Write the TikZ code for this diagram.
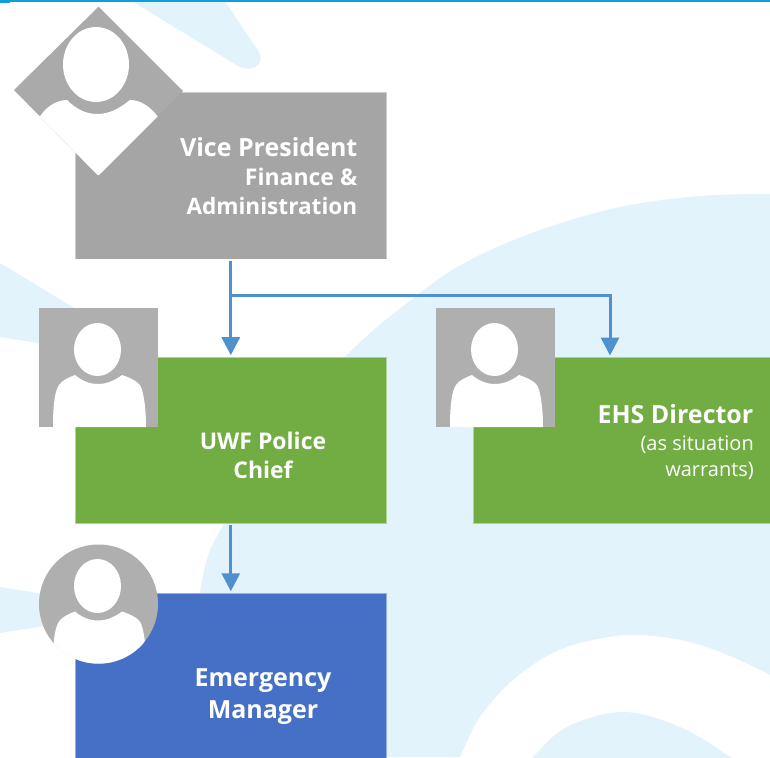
\documentclass[tikz,border=0pt]{standalone}
\usepackage{fontspec}
\setmainfont{Open Sans}
\usetikzlibrary{arrows.meta}
\definecolor{swirl}{HTML}{E3F3FB}
\definecolor{topbar}{HTML}{0F9ED9}
\definecolor{vpgrey}{HTML}{A5A5A5}
\definecolor{icongrey}{HTML}{AFAFAF}
\definecolor{chiefgreen}{HTML}{71AD42}
\definecolor{emblue}{HTML}{4570C6}
\definecolor{linkblue}{HTML}{4F90CF}
\tikzset{
  swirlfill/.style={fill=swirl},
  orgbox/.style={rectangle,anchor=north west,inner sep=0pt,draw=white,draw opacity=.45,line width=.7pt},
  squarepic/.style={rectangle,anchor=north west,fill=icongrey,minimum size=119pt,inner sep=0pt},
  roundpic/.style={circle,fill=icongrey,minimum size=119pt,inner sep=0pt},
  link/.style={draw=linkblue,line width=3pt},
  arrowlink/.style={link,-{Triangle[width=18pt,length=18pt]},shorten >=1.5pt},
  titletext/.style={text=white,font=\fontsize{23}{29}\selectfont\bfseries,inner sep=0pt},
  bigtitle/.style={text=white,font=\fontsize{25}{32}\selectfont\bfseries,inner sep=0pt},
  notetext/.style={text=white,font=\fontsize{20}{26}\selectfont,inner sep=0pt,align=right},
}
\newcommand{\personbody}{(53,427) .. controls (53,410) and (54,392) .. (59,385) .. controls (62,380) and (70,377) .. (75,375) .. controls (82,381) and (90,384) .. (98,384) .. controls (106,384) and (114,381) .. (122,375) .. controls (128,377) and (136,380) .. (140,385) .. controls (144,392) and (146,410) .. (146,427) -- cycle}
\begin{document}
\begin{tikzpicture}[x=1pt,y=-1pt]
\useasboundingbox (0,0) rectangle (770,757);
\fill[white] (0,0) rectangle (770,757);
% background swirl
\fill[swirlfill] (130,0) -- (238,66) .. controls (250,73) and (266,66) .. (259,52) -- (224,0) -- cycle;
\fill[swirlfill] (0,263) -- (76,309) -- (76,349) -- (0,337) -- cycle;
\fill[swirlfill] (0,587) -- (50,595) -- (50,625) -- (0,633) -- cycle;
\fill[swirlfill] plot[smooth,tension=.6] coordinates {(770,194) (700,196) (620,207) (540,230) (470,260) (420,293) (347,355) (280,440) (223,525) (200,592) (185,757)} -- (770,757) -- cycle;
\fill[white] plot[smooth,tension=.6] coordinates {(452,775) (460,757) (480,717) (513,680) (553,653) (593,640) (640,635) (700,645) (770,675) (810,705)} -- (810,775) -- cycle;
\fill[swirlfill] plot[smooth,tension=.6] coordinates {(518,775) (533,757) (567,727) (623,712) (680,727) (730,757) (750,775)} -- cycle;
\fill[topbar] (0,0) rectangle (770,2.2);
\fill[topbar] (0,0) rectangle (10,3);
% boxes
\node[orgbox,fill=vpgrey,minimum width=311.5pt,minimum height=167pt] (vp) at (74.7,91.8) {};
\node[orgbox,fill=chiefgreen,minimum width=311.5pt,minimum height=166.5pt] (chief) at (74.7,356.7) {};
\node[orgbox,fill=chiefgreen,minimum width=310pt,minimum height=166.5pt] (ehs) at (472.7,356.7) {};
\node[orgbox,fill=emblue,minimum width=311.5pt,minimum height=180pt] (mgr) at (74.7,592.8) {};
% diamond picture
\begin{scope}
\clip (98.5,6.7) -- (183,91) -- (99.5,174.5) .. controls (98.7,175.5) and (97.7,175.5) .. (97,174.5) -- (14,90) -- cycle;
\fill[icongrey!97!black] (0,0) rectangle (190,180);
\fill[white] (96,64.5) ellipse [x radius=33,y radius=37.5];
\fill[white] (30,130) -- (41,115) .. controls (48,105) and (58,100) .. (67,100) .. controls (75,108) and (85,114) .. (97,114) .. controls (110,114) and (120,108) .. (130,100) .. controls (140,100) and (150,106) .. (158,117) -- (158,190) -- (30,190) -- cycle;
\end{scope}
% square pictures
\node[squarepic] (chiefpic) at (39,308) {};
\fill[white] (97.5,349.5) ellipse [x radius=23.5,y radius=26.5];
\fill[white] \personbody;
\node[squarepic] (ehspic) at (436.2,308) {};
\begin{scope}[shift={(397,0)}]
\fill[white] (97.5,349.5) ellipse [x radius=23.5,y radius=26.5];
\fill[white] \personbody;
\end{scope}
% round picture
\node[roundpic] (mgrpic) at (98.5,604) {};
\begin{scope}
\clip (98.5,604) circle [radius=59.7];
\fill[white] (97.5,586) ellipse [x radius=23.5,y radius=27];
\begin{scope}[shift={(0,236.5)}]
\fill[white] (53,440) -- \personbody;
\end{scope}
\end{scope}
% connectors
\coordinate (branch) at (vp.south |- 0,295.5);
\coordinate (ehsin) at (610,357);
\draw[arrowlink,shorten <=1.5pt] (vp.south) -- (chief.north);
\draw[arrowlink] (branch) -| (ehsin);
\draw[arrowlink,shorten <=1.5pt] (chief.south) -- (mgr.north);
% texts
\node[titletext,align=right,anchor=east] (vptext) at (357.5,176) {{\fontsize{25}{29}\selectfont Vice President}\\Finance \&\\{\fontsize{22.6}{29}\selectfont Administration}};
\node[titletext,align=center] (chieftext) at (263,455) {UWF Police\\Chief};
\node[bigtitle,align=center] (mgrtext) at (263,697) {Emergency\\Manager};
\node[bigtitle,anchor=base east] (ehstext) at (753.5,423) {EHS Director};
\node[notetext,anchor=east] (ehsnote) at (754,458) {(as situation\\warrants)};
\end{tikzpicture}
\end{document}
